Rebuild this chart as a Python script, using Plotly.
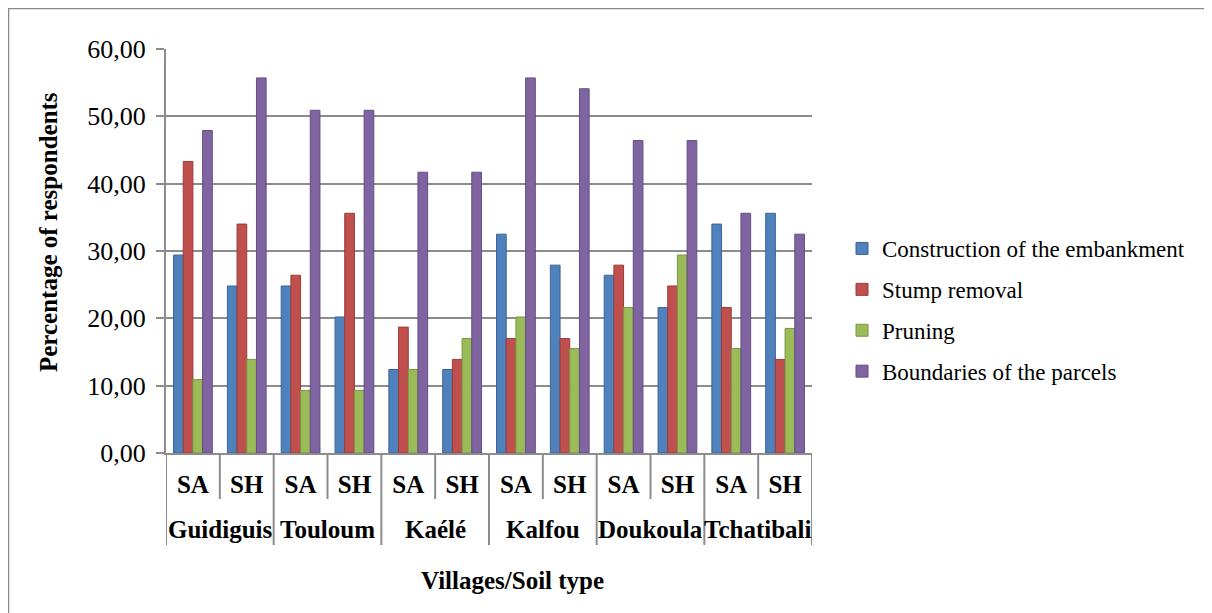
import plotly.graph_objects as go

villages = ["Guidiguis", "Touloum", "Kaélé", "Kalfou", "Doukoula", "Tchatibali"]
soils = ["SA", "SH"]

construction = [29.4, 24.8, 24.8, 20.2, 12.4, 12.4, 32.5, 27.9, 26.4, 21.6, 34.0, 35.6]
stump_removal = [43.3, 34.0, 26.4, 35.6, 18.7, 13.9, 17.0, 17.0, 27.9, 24.8, 21.6, 13.9]
pruning = [10.9, 13.9, 9.3, 9.3, 12.4, 17.0, 20.2, 15.5, 21.6, 29.4, 15.5, 18.5]
boundaries = [47.9, 55.7, 50.9, 50.9, 41.7, 41.7, 55.7, 54.1, 46.4, 46.4, 35.6, 32.5]

series_names = ["Construction of the embankment", "Stump removal", "Pruning",
                "Boundaries of the parcels"]
series_values = [construction, stump_removal, pruning, boundaries]
colors = ["#4F81BD", "#C0504D", "#9BBB59", "#8064A2"]
line_colors = ["#3A6596", "#983D3A", "#7A9545", "#644E80"]

cats = [f"{v} {s}" for v in villages for s in soils]
cat_text = [s for v in villages for s in soils]

# page is offset by the 8px body margin
OFF = 8
W, H = 1212 - OFF, 613 - OFF
L, R, T, B = 166 - OFF, 812 - OFF, 49 - OFF, 453 - OFF


def px_x(p):
    return (p - OFF - L) / (R - L)


def px_y(p):
    return (B - (p - OFF)) / (B - T)


fig = go.Figure()
for i, (name, vals) in enumerate(zip(series_names, series_values)):
    fig.add_trace(go.Bar(
        x=cats, y=vals, name=name,
        marker=dict(color=colors[i], line=dict(color=line_colors[i], width=1)),
        legendgroup=str(i),
    ))

serif = "Liberation Serif, Times New Roman, serif"
grid = "#8C8C8C"

shapes = []
# separators between soil types and village groups
for k in range(len(cats) + 1):
    xb = k - 0.5
    bottom = 545 if k % 2 == 0 else 499
    shapes.append(dict(type="line", xref="x", yref="paper", x0=xb, x1=xb,
                       y0=0, y1=px_y(bottom), line=dict(color=grid, width=2)))
# outer chart border (top and left visible)
shapes.append(dict(type="line", xref="paper", yref="paper",
                   x0=px_x(8), x1=px_x(1212), y0=px_y(8), y1=px_y(8),
                   line=dict(color="#888888", width=2.5)))
shapes.append(dict(type="line", xref="paper", yref="paper",
                   x0=px_x(8), x1=px_x(8), y0=px_y(8), y1=px_y(613),
                   line=dict(color="#888888", width=2.5)))

annotations = [
    dict(text="<b>Percentage of respondents</b>", xref="paper", yref="paper",
         x=px_x(49), y=px_y(232), textangle=-90, showarrow=False,
         xanchor="center", yanchor="middle",
         font=dict(family=serif, size=25, color="black")),
    dict(text="<b>Villages/Soil type</b>", xref="paper", yref="paper",
         x=px_x(512), y=px_y(580), showarrow=False,
         xanchor="center", yanchor="middle",
         font=dict(family=serif, size=25, color="black")),
]
for j, v in enumerate(villages):
    annotations.append(dict(text=f"<b>{v}</b>", xref="x", yref="paper",
                            x=2 * j + 0.5, y=px_y(529), showarrow=False,
                            xanchor="center", yanchor="middle",
                            font=dict(family=serif, size=25, color="black")))

fig.update_layout(
    width=W, height=H,
    margin=dict(l=L, r=W - R, t=T, b=H - B),
    paper_bgcolor="white", plot_bgcolor="white",
    barmode="group", bargap=0.28, bargroupgap=0.0,
    separators=", ",
    font=dict(family=serif, color="black"),
    showlegend=True,
    legend=dict(
        x=px_x(842), y=px_y(310), xanchor="left", yanchor="middle",
        font=dict(family=serif, size=23, color="black"),
        traceorder="grouped", tracegroupgap=8,
        bgcolor="rgba(0,0,0,0)",
    ),
    xaxis=dict(
        type="category", range=[-0.5, 11.5],
        tickvals=cats, ticktext=cat_text,
        showline=True, linecolor=grid, linewidth=2,
        ticks="", ticklabelstandoff=8,
        tickfont=dict(family=serif, size=25, color="black", weight="bold"),
        showgrid=False,
    ),
    yaxis=dict(
        range=[0, 60], dtick=10, tickformat=".2f",
        showline=True, linecolor=grid, linewidth=2,
        ticks="outside", ticklen=8, tickcolor=grid, tickwidth=2,
        ticklabelstandoff=5,
        showgrid=True, gridcolor=grid, gridwidth=2,
        tickfont=dict(family=serif, size=26, color="black"),
        zeroline=False,
    ),
    annotations=annotations,
    shapes=shapes,
)

fig.write_html("out.html")
